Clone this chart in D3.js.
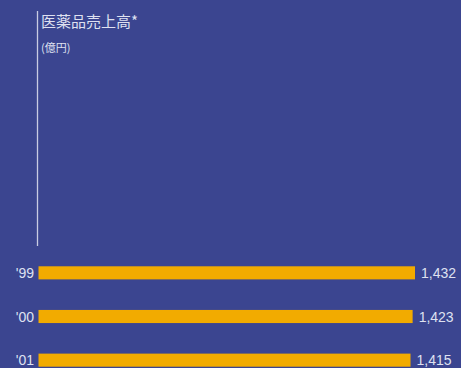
<!DOCTYPE html>
<html>
<head>
<meta charset="utf-8">
<script src="https://cdn.jsdelivr.net/npm/d3@7"></script>
<style>
  html, body { margin: 0; padding: 0; background: #3b4590; }
  svg { display: block; }
</style>
</head>
<body>
<svg id="chart" width="461" height="368"></svg>
<script>
// Pharmaceutical sales by fiscal year (100 million yen)
const years = ["'99", "'00", "'01"];
const sales = [1432, 1423, 1415];
const title = "医薬品売上高*";
const unit = "(億円)";

const W = 461, H = 368;
const x0 = 38.5;
const svg = d3.select("#chart");
svg.append("rect").attr("width", W).attr("height", H).attr("fill", "#3b4590");

const x = d3.scaleLinear().domain([0, 1432]).range([x0, 415]);
const y = d3.scaleBand().domain(years).range([251, 382]).paddingInner(0.7).paddingOuter(0.35);

const font = "'Noto Sans CJK JP', 'Liberation Sans', Arial, sans-serif";
const textCol = "#dfe1f0";

// vertical axis line
svg.append("line")
  .attr("x1", 37.5).attr("x2", 37.5)
  .attr("y1", 11).attr("y2", 246)
  .attr("stroke", "#c9cce3").attr("stroke-width", 1.3);

svg.append("text").attr("x", 41).attr("y", 27)
  .attr("font-family", font).attr("font-size", 15).attr("fill", textCol)
  .text(title);
svg.append("text").attr("x", 41).attr("y", 52)
  .attr("font-family", font).attr("font-size", 11).attr("fill", textCol)
  .text(unit);

const rows = svg.append("g").selectAll("g").data(years.map((yr, i) => ({ yr, v: sales[i] })))
  .join("g");

rows.append("rect")
  .attr("x", x0)
  .attr("y", d => y(d.yr))
  .attr("width", d => x(d.v) - x0)
  .attr("height", y.bandwidth())
  .attr("fill", "#f2ab00");

rows.append("text")
  .attr("x", 34)
  .attr("y", d => y(d.yr) + y.bandwidth() / 2)
  .attr("dy", "0.36em")
  .attr("text-anchor", "end")
  .attr("font-family", "'Liberation Sans', Arial, sans-serif")
  .attr("font-size", 14).attr("fill", textCol)
  .text(d => d.yr);

rows.append("text")
  .attr("x", d => x(d.v) + 6)
  .attr("y", d => y(d.yr) + y.bandwidth() / 2)
  .attr("dy", "0.36em")
  .attr("font-family", "'Liberation Sans', Arial, sans-serif")
  .attr("font-size", 14).attr("fill", textCol)
  .text(d => d3.format(",")(d.v));
</script>
</body>
</html>
